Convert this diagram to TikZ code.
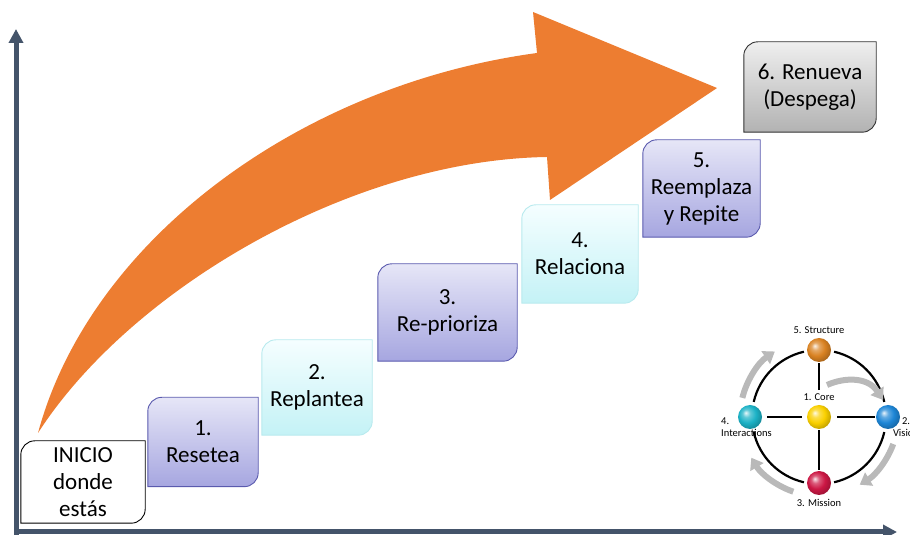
\documentclass[tikz,border=0pt]{standalone}
\usepackage{fontspec}
\setmainfont{Carlito}
\usepackage{tikz}
\usetikzlibrary{arrows.meta, backgrounds}

\definecolor{ejeazul}{HTML}{44546A}
\definecolor{naranja}{HTML}{ED7D31}
\definecolor{lilaclaro}{HTML}{E6E6F7}
\definecolor{lilaoscuro}{HTML}{A6A6E0}
\definecolor{lilaborde}{HTML}{5A5AAE}
\definecolor{cianclaro}{HTML}{F5FEFF}
\definecolor{cianoscuro}{HTML}{C4F2F6}
\definecolor{cianborde}{HTML}{B8EAEE}
\definecolor{grisclaro}{HTML}{EFEFEF}
\definecolor{grisoscuro}{HTML}{B2B2B2}
\definecolor{grisflecha}{HTML}{B9B9B9}
\definecolor{bolanaranja}{HTML}{D98222}
\definecolor{bolaamarilla}{HTML}{FAD000}
\definecolor{bolaturquesa}{HTML}{1CB2C6}
\definecolor{bolaazul}{HTML}{1E86D6}
\definecolor{bolaroja}{HTML}{CC1744}

% 更亮的球体渐变
\makeatletter
\pgfdeclareradialshading[tikz@ball]{bolaclara}{\pgfqpoint{-9bp}{9bp}}{%
  color(0bp)=(tikz@ball!10!white); color(8bp)=(tikz@ball!70!white);
  color(18bp)=(tikz@ball); color(28bp)=(tikz@ball!80!black);
  color(50bp)=(tikz@ball!55!black)}
\makeatother

% 对角圆角的方框
\newcommand{\diagshape}[2]{%
  \path[#2] (#1.north east) -- ([yshift=14pt]#1.south east)
    arc[start angle=0, end angle=-90, radius=14pt] -- (#1.south west)
    -- ([yshift=-14pt]#1.north west)
    arc[start angle=180, end angle=90, radius=14pt] -- cycle;}

\begin{document}
\begin{tikzpicture}[x=1pt, y=1pt,
    paso/.style={align=center, inner sep=0pt, font=\fontsize{23}{27}\selectfont},
    cajablanca/.style={fill=white, draw=black, line width=0.9pt},
    cajalila/.style={top color=lilaclaro, bottom color=lilaoscuro, draw=lilaborde, line width=0.9pt},
    cajacian/.style={top color=cianclaro, bottom color=cianoscuro, draw=cianborde, line width=0.9pt},
    cajagris/.style={top color=grisclaro, bottom color=grisoscuro, draw=black!80, line width=0.9pt},
    eje/.style={line width=5pt, ejeazul, -{Triangle[width=14pt,length=14pt]}},
    bola/.style={circle, shade, inner sep=0pt, minimum size=24pt, ball color=#1, shading=bolaclara},
    anillo/.style={line width=2.2pt, black},
    flecha/.style={line width=6pt, grisflecha, -{Triangle[width=15pt,length=11pt]}},
    etiqueta/.style={inner sep=0pt, font=\fontsize{10.5}{12.5}\selectfont}]
    \useasboundingbox (0,0) rectangle (910,535);

    % 坐标轴
    \coordinate (origen) at (16,3);
    \coordinate (ejey) at (16,506);
    \coordinate (ejex) at (897,3);
    \draw[eje] ([yshift=-3pt]origen) -- (ejey);
    \draw[eje] ([xshift=-2pt]origen) -- (ejex);

    % 橙色大箭头
    \fill[naranja] (38,102) .. controls (90,295) and (300,450) .. (537,482)
        -- (533,523) -- (717,447) -- (550,335) -- (547,378)
        .. controls (350,375) and (130,245) .. (38,102) -- cycle;

    % 六个台阶
    \node[paso, minimum width=124pt, minimum height=82pt] (inicio) at (83,53) {INICIO\\donde\\estás};
    \node[paso, minimum width=110pt, minimum height=89pt] (resetea) at (203,93) {1.\\Resetea};
    \node[paso, minimum width=110pt, minimum height=95pt] (replantea) at (317,147.5) {2.\\Replantea};
    \node[paso, minimum width=139pt, minimum height=97pt] (reprioriza) at (447.5,222.5) {3.\\Re-prioriza};
    \node[paso, minimum width=116pt, minimum height=98pt] (relaciona) at (580,281) {4.\\Relaciona};
    \node[paso, minimum width=117pt, minimum height=97pt] (reemplaza) at (701.5,346.5) {5.\\Reemplaza\\y Repite};
    \node[paso, minimum width=132pt, minimum height=90pt] (renueva) at (810,448) {6. Renueva\\(Despega)};

    \begin{scope}[on background layer]
        \diagshape{inicio}{cajablanca}
        \diagshape{resetea}{cajalila}
        \diagshape{replantea}{cajacian}
        \diagshape{reprioriza}{cajalila}
        \diagshape{relaciona}{cajacian}
        \diagshape{reemplaza}{cajalila}
        \diagshape{renueva}{cajagris}
    \end{scope}

    % 右下角的圆形图
    \coordinate (C) at (819,118);
    \def\R{67}
    \foreach \a in {0,90,180,270}
        \draw[anillo] ([shift={(\a+13:\R)}]C) arc[start angle=\a+13, end angle=\a+77, radius=\R];

    \node[bola=bolanaranja] (structure) at (819,185) {};
    \node[bola=bolaamarilla] (core) at (C) {};
    \node[bola=bolaturquesa] (interactions) at (750,118) {};
    \node[bola=bolaazul] (vision) at (888,118) {};
    \node[bola=bolaroja] (mission) at (819,52) {};

    \draw[anillo, shorten <=15pt, shorten >=1pt] (core) -- (structure);
    \draw[anillo, shorten <=1pt, shorten >=1pt] (core) -- (mission);
    \draw[anillo, shorten <=5pt, shorten >=5pt] (core) -- (interactions);
    \draw[anillo, shorten <=6pt, shorten >=1pt] (core) -- (vision);

    \node[etiqueta] (lstructure) at (819,205) {5. Structure};
    \node[etiqueta] (lcore) at (819,138) {1. Core};
    \node[etiqueta, align=left, anchor=west] (linter) at (721,108) {4.\\Interactions};
    \node[etiqueta, align=center] (lvision) at (906,108) {2.\\Vision};
    \node[etiqueta] (lmission) at (819,32) {3. Mission};

    % 灰色循环箭头
    \draw[flecha] ([shift={(166:79)}]C) arc[start angle=166, end angle=124, radius=79];
    \draw[flecha] (827,150) .. controls (845,158) and (868,158) .. (883,135);
    \draw[flecha] ([shift={(-20:79)}]C) arc[start angle=-20, end angle=-59, radius=79];
    \draw[flecha] ([shift={(251:79)}]C) arc[start angle=251, end angle=211, radius=79];

\end{tikzpicture}
\end{document}
